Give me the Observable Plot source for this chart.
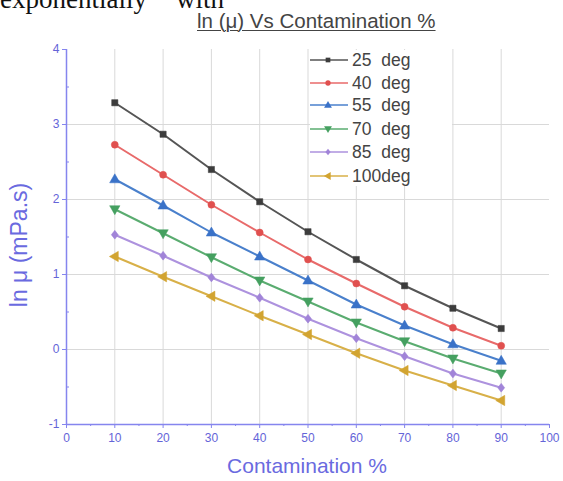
<!DOCTYPE html>
<html>
<head>
<meta charset="utf-8">
<script src="https://cdn.jsdelivr.net/npm/d3@7"></script>
<script src="https://cdn.jsdelivr.net/npm/@observablehq/plot@0.6"></script>
<style>
  html, body { margin: 0; padding: 0; background: #fff; overflow: hidden; }
  #wrap { position: relative; width: 563px; height: 481px; }
  #chart { position: absolute; left: 0; top: 0; }
  .abs { position: absolute; white-space: nowrap; }
  .cap { font-family: "Liberation Serif", "Times New Roman", serif; font-size: 27px; color: #111; line-height: 20px; top: -11px; }
  #title { left: 197px; top: 10px; font-family: "Liberation Sans", Arial, sans-serif; font-size: 20.5px; line-height: 22px; color: #444; text-decoration: underline; text-decoration-thickness: 1px; text-underline-offset: 2px; }
  #xtitle { left: 0; width: 614px; text-align: center; top: 454px; font-family: "Liberation Sans", Arial, sans-serif; font-size: 21px; color: #6a6ae0; }
  #ytitle { left: 19px; top: 245px; transform: translate(-50%, -50%) rotate(-90deg); font-family: "Liberation Sans", Arial, sans-serif; font-size: 23px; color: #6a6ae0; }
  #legend { left: 310px; top: 50px; width: 142px; height: 136px; background: #fff; font-family: "Liberation Sans", Arial, sans-serif; font-size: 17.5px; color: #444; }
  .lrow { position: absolute; left: 0; height: 20px; display: flex; align-items: center; }
  .lrow span { margin-left: 2px; white-space: pre; }
</style>
</head>
<body>
<div id="wrap">
  <div id="chart"></div>
  <div class="abs cap" style="left:0px">exponentially</div>
  <div class="abs cap" style="left:176px">with</div>
  <div id="title" class="abs">ln (μ) Vs Contamination %</div>
  <div id="legend" class="abs"></div>
  <div id="xtitle" class="abs">Contamination %</div>
  <div id="ytitle" class="abs">ln μ (mPa.s)</div>
</div>
<script>
// ---- data ----
const contamination = [10, 20, 30, 40, 50, 60, 70, 80, 90];
const seriesNames = ["25  deg", "40  deg", "55  deg", "70  deg", "85  deg", "100deg"];
const deg25  = [3.29, 2.87, 2.40, 1.97, 1.57, 1.20, 0.85, 0.55, 0.28];
const deg40  = [2.73, 2.33, 1.93, 1.56, 1.20, 0.88, 0.57, 0.29, 0.05];
const deg55  = [2.27, 1.92, 1.56, 1.24, 0.92, 0.60, 0.32, 0.07, -0.15];
const deg70  = [1.87, 1.55, 1.23, 0.92, 0.64, 0.36, 0.11, -0.12, -0.32];
const deg85  = [1.53, 1.25, 0.96, 0.69, 0.41, 0.15, -0.09, -0.32, -0.51];
const deg100 = [1.24, 0.97, 0.71, 0.45, 0.20, -0.05, -0.28, -0.48, -0.68];
const xTicks = [0, 10, 20, 30, 40, 50, 60, 70, 80, 90, 100];
const xMinor = [5, 15, 25, 35, 45, 55, 65, 75, 85, 95];
const yTicks = [-1, 0, 1, 2, 3, 4];
const yMinor = [-0.5, 0.5, 1.5, 2.5, 3.5];
const gridX = [10, 20, 30, 40, 50, 60, 70, 80, 90];
const gridY = [0, 1, 2, 3];

// ---- styles ----
const colors = ["#3c3c3c", "#e0504f", "#3a72c8", "#45a060", "#a184d8", "#d2a431"];
const lineColors = ["#555555", "#e86a6a", "#4a80cc", "#5aac70", "#ad92de", "#d8b048"];
const tri = (dir) => ({
  draw(ctx, size) {
    const r = Math.sqrt(size / 1.3);
    if (dir === "down") { ctx.moveTo(0, r); ctx.lineTo(r * 0.95, -r * 0.65); ctx.lineTo(-r * 0.95, -r * 0.65); }
    else if (dir === "up") { ctx.moveTo(0, -r); ctx.lineTo(r * 0.95, r * 0.65); ctx.lineTo(-r * 0.95, r * 0.65); }
    else { ctx.moveTo(-r, 0); ctx.lineTo(r * 0.65, -r * 0.95); ctx.lineTo(r * 0.65, r * 0.95); }
    ctx.closePath();
  }
});
const diamond = { draw(ctx, size) { const r = Math.sqrt(size / 2); ctx.moveTo(0, -r); ctx.lineTo(r * 0.8, 0); ctx.lineTo(0, r); ctx.lineTo(-r * 0.8, 0); ctx.closePath(); } };
const symbols = ["square", "circle", tri("up"), tri("down"), diamond, tri("left")];
const values = [deg25, deg40, deg55, deg70, deg85, deg100];

const tables = values.map((vals, i) => contamination.map((c, j) => ({ x: c, y: vals[j], s: seriesNames[i] })));

const axisColor = "#8585ee";
const labelColor = "#6464d8";

const marks = [
  Plot.gridX(gridX, { stroke: "#d9d9d9", strokeOpacity: 1, strokeWidth: 1 }),
  Plot.gridY(gridY, { stroke: "#d9d9d9", strokeOpacity: 1, strokeWidth: 1 }),
  Plot.axisX(xTicks, { tickSize: 4, stroke: axisColor, fill: labelColor, fontSize: 12, tickPadding: 5, label: null }),
  Plot.axisX(xMinor, { tickSize: 2, stroke: axisColor, text: null, label: null }),
  Plot.axisY(yTicks, { tickSize: 4, stroke: axisColor, fill: labelColor, fontSize: 12, tickPadding: 3, label: null, tickFormat: d => d < 0 ? "-" + Math.abs(d) : d }),
  Plot.axisY(yMinor, { tickSize: -3, stroke: axisColor, text: null, label: null }),
  Plot.ruleX([0], { stroke: axisColor, strokeWidth: 1.5 }),
  Plot.ruleY([-1], { stroke: axisColor, strokeWidth: 1.5 })
];
tables.forEach((t, i) => {
  marks.push(Plot.line(t, { x: "x", y: "y", stroke: lineColors[i], strokeWidth: 2 }));
  marks.push(Plot.dot(t, { x: "x", y: "y", symbol: symbols[i], fill: colors[i], stroke: colors[i], strokeWidth: 0.5, r: 3.5 }));
});

const chart = Plot.plot({
  width: 563,
  height: 481,
  marginLeft: 66,
  marginRight: 14,
  marginTop: 49,
  marginBottom: 57,
  x: { domain: [0, 100] },
  y: { domain: [-1, 4] },
  style: { fontFamily: "'Liberation Sans', Arial, sans-serif", background: "transparent" },
  marks
});
document.getElementById("chart").appendChild(chart);

// ---- legend ----
const legend = document.getElementById("legend");
const rowTops = [0, 23, 45, 69, 92, 116];
seriesNames.forEach((name, i) => {
  const row = document.createElement("div");
  row.className = "lrow";
  row.style.top = rowTops[i] + "px";
  const svg = d3.create("svg").attr("width", 40).attr("height", 20);
  svg.append("line").attr("x1", 0).attr("x2", 38).attr("y1", 10).attr("y2", 10).attr("stroke", lineColors[i]).attr("stroke-width", 1.5);
  const sym = typeof symbols[i] === "string" ? (symbols[i] === "square" ? d3.symbolSquare : d3.symbolCircle) : symbols[i];
  svg.append("path").attr("transform", "translate(18,10)").attr("d", d3.symbol(sym, 22)()).attr("fill", colors[i]);
  row.appendChild(svg.node());
  const sp = document.createElement("span");
  sp.textContent = name;
  row.appendChild(sp);
  legend.appendChild(row);
});
</script>
</body>
</html>
